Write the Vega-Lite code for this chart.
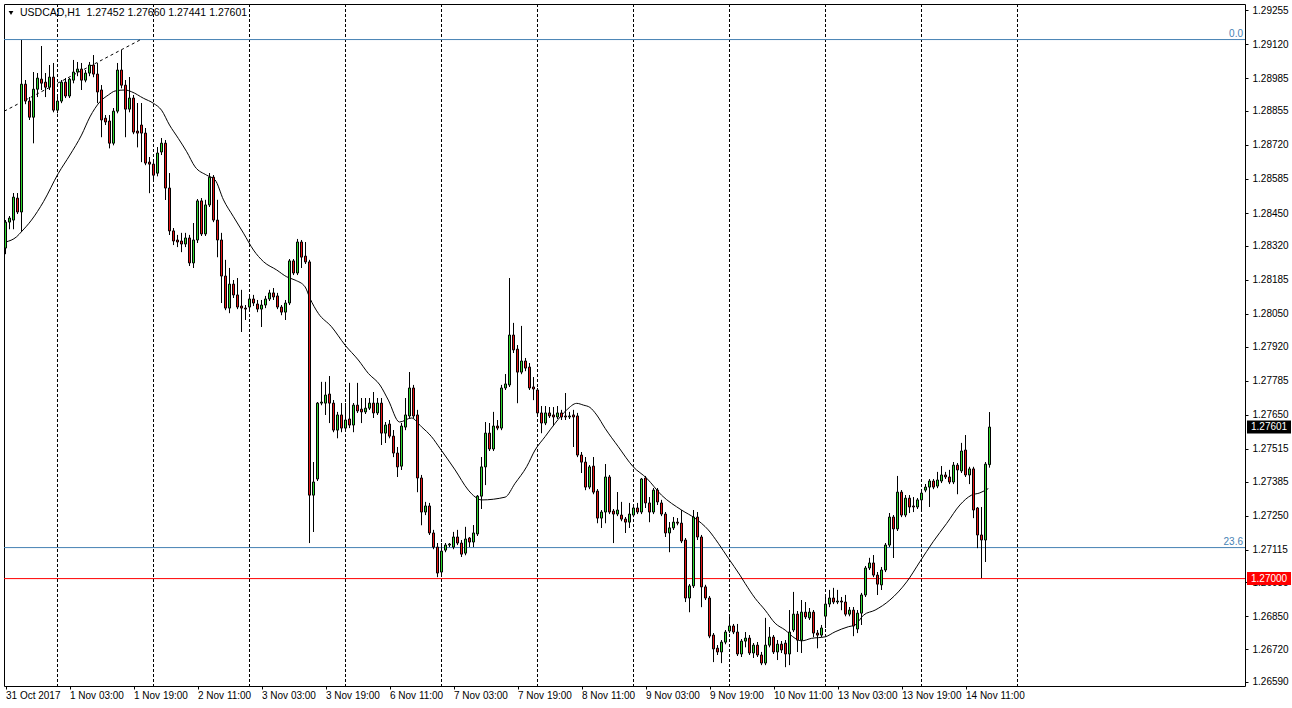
{
  "$schema": "https://vega.github.io/schema/vega-lite/v6.json",
  "width": 1241,
  "height": 682,
  "autosize": {"type": "none"},
  "padding": {"left": 4, "top": 4, "right": 47, "bottom": 22},
  "background": "#ffffff",
  "config": {
    "view": {"stroke": "#000000", "strokeWidth": 1},
    "axis": {"labelFont": "Liberation Sans", "labelFontSize": 10, "labelColor": "#000000", "tickColor": "#000000", "grid": false, "domain": false}
  },
  "resolve": {"axis": {"x": "independent", "y": "independent"}},
  "datasets": {
    "candles": [
      {"i":0,"o":1.28311,"h":1.28422,"l":1.28287,"c":1.28414},
      {"i":1,"o":1.28414,"h":1.28438,"l":1.28386,"c":1.28430},
      {"i":2,"o":1.28422,"h":1.28529,"l":1.28386,"c":1.28513},
      {"i":3,"o":1.28509,"h":1.28529,"l":1.28446,"c":1.28454},
      {"i":4,"o":1.28454,"h":1.29136,"l":1.28375,"c":1.28961},
      {"i":5,"o":1.28961,"h":1.28977,"l":1.28882,"c":1.28894},
      {"i":6,"o":1.28894,"h":1.28910,"l":1.28819,"c":1.28830},
      {"i":7,"o":1.28830,"h":1.29009,"l":1.28727,"c":1.28941},
      {"i":8,"o":1.28941,"h":1.29005,"l":1.28910,"c":1.28985},
      {"i":9,"o":1.28981,"h":1.29112,"l":1.28938,"c":1.28965},
      {"i":10,"o":1.28969,"h":1.29005,"l":1.28910,"c":1.28949},
      {"i":11,"o":1.28949,"h":1.29037,"l":1.28938,"c":1.28989},
      {"i":12,"o":1.28989,"h":1.29045,"l":1.28850,"c":1.28858},
      {"i":13,"o":1.28858,"h":1.28910,"l":1.28846,"c":1.28894},
      {"i":14,"o":1.28894,"h":1.28977,"l":1.28886,"c":1.28969},
      {"i":15,"o":1.28969,"h":1.28985,"l":1.28906,"c":1.28914},
      {"i":16,"o":1.28914,"h":1.28985,"l":1.28906,"c":1.28981},
      {"i":17,"o":1.28977,"h":1.29057,"l":1.28965,"c":1.29009},
      {"i":18,"o":1.29009,"h":1.29049,"l":1.28993,"c":1.29021},
      {"i":19,"o":1.29021,"h":1.29045,"l":1.28938,"c":1.28977},
      {"i":20,"o":1.28977,"h":1.29017,"l":1.28969,"c":1.29005},
      {"i":21,"o":1.29005,"h":1.29049,"l":1.28993,"c":1.29037},
      {"i":22,"o":1.29037,"h":1.29076,"l":1.28989,"c":1.29001},
      {"i":23,"o":1.29001,"h":1.29045,"l":1.28886,"c":1.28930},
      {"i":24,"o":1.28938,"h":1.28957,"l":1.28751,"c":1.28819},
      {"i":25,"o":1.28826,"h":1.28838,"l":1.28799,"c":1.28811},
      {"i":26,"o":1.28815,"h":1.28838,"l":1.28707,"c":1.28727},
      {"i":27,"o":1.28727,"h":1.28866,"l":1.28719,"c":1.28854},
      {"i":28,"o":1.28854,"h":1.29045,"l":1.28846,"c":1.29017},
      {"i":29,"o":1.29017,"h":1.29096,"l":1.28945,"c":1.28957},
      {"i":30,"o":1.28957,"h":1.28977,"l":1.28751,"c":1.28862},
      {"i":31,"o":1.28862,"h":1.28989,"l":1.28850,"c":1.28906},
      {"i":32,"o":1.28906,"h":1.28918,"l":1.28763,"c":1.28771},
      {"i":33,"o":1.28775,"h":1.28886,"l":1.28711,"c":1.28767},
      {"i":34,"o":1.28799,"h":1.28886,"l":1.28652,"c":1.28767},
      {"i":35,"o":1.28767,"h":1.28787,"l":1.28640,"c":1.28648},
      {"i":36,"o":1.28652,"h":1.28672,"l":1.28529,"c":1.28644},
      {"i":37,"o":1.28644,"h":1.28660,"l":1.28581,"c":1.28600},
      {"i":38,"o":1.28608,"h":1.28711,"l":1.28596,"c":1.28688},
      {"i":39,"o":1.28692,"h":1.28747,"l":1.28680,"c":1.28727},
      {"i":40,"o":1.28727,"h":1.28739,"l":1.28502,"c":1.28549},
      {"i":41,"o":1.28549,"h":1.28608,"l":1.28363,"c":1.28379},
      {"i":42,"o":1.28379,"h":1.28390,"l":1.28323,"c":1.28339},
      {"i":43,"o":1.28343,"h":1.28363,"l":1.28315,"c":1.28335},
      {"i":44,"o":1.28339,"h":1.28371,"l":1.28295,"c":1.28327},
      {"i":45,"o":1.28327,"h":1.28371,"l":1.28315,"c":1.28351},
      {"i":46,"o":1.28351,"h":1.28363,"l":1.28240,"c":1.28252},
      {"i":47,"o":1.28252,"h":1.28410,"l":1.28232,"c":1.28343},
      {"i":48,"o":1.28343,"h":1.28505,"l":1.28331,"c":1.28498},
      {"i":49,"o":1.28498,"h":1.28509,"l":1.28359,"c":1.28367},
      {"i":50,"o":1.28367,"h":1.28502,"l":1.28359,"c":1.28482},
      {"i":51,"o":1.28482,"h":1.28608,"l":1.28474,"c":1.28592},
      {"i":52,"o":1.28592,"h":1.28600,"l":1.28414,"c":1.28422},
      {"i":53,"o":1.28422,"h":1.28502,"l":1.28275,"c":1.28343},
      {"i":54,"o":1.28343,"h":1.28371,"l":1.28093,"c":1.28200},
      {"i":55,"o":1.28200,"h":1.28264,"l":1.28065,"c":1.28073},
      {"i":56,"o":1.28073,"h":1.28232,"l":1.28053,"c":1.28168},
      {"i":57,"o":1.28168,"h":1.28184,"l":1.28113,"c":1.28125},
      {"i":58,"o":1.28125,"h":1.28192,"l":1.28069,"c":1.28077},
      {"i":59,"o":1.28081,"h":1.28145,"l":1.27978,"c":1.28073},
      {"i":60,"o":1.28073,"h":1.28085,"l":1.28026,"c":1.28069},
      {"i":61,"o":1.28077,"h":1.28125,"l":1.28065,"c":1.28109},
      {"i":62,"o":1.28109,"h":1.28125,"l":1.28081,"c":1.28093},
      {"i":63,"o":1.28089,"h":1.28105,"l":1.28057,"c":1.28069},
      {"i":64,"o":1.28069,"h":1.28105,"l":1.27998,"c":1.28085},
      {"i":65,"o":1.28085,"h":1.28121,"l":1.28073,"c":1.28109},
      {"i":66,"o":1.28109,"h":1.28145,"l":1.28101,"c":1.28133},
      {"i":67,"o":1.28133,"h":1.28152,"l":1.28105,"c":1.28117},
      {"i":68,"o":1.28121,"h":1.28133,"l":1.28069,"c":1.28077},
      {"i":69,"o":1.28077,"h":1.28085,"l":1.28045,"c":1.28057},
      {"i":70,"o":1.28057,"h":1.28105,"l":1.28026,"c":1.28093},
      {"i":71,"o":1.28093,"h":1.28267,"l":1.28085,"c":1.28260},
      {"i":72,"o":1.28260,"h":1.28267,"l":1.28204,"c":1.28212},
      {"i":73,"o":1.28212,"h":1.28347,"l":1.28204,"c":1.28335},
      {"i":74,"o":1.28335,"h":1.28343,"l":1.28232,"c":1.28275},
      {"i":75,"o":1.28279,"h":1.28335,"l":1.28248,"c":1.28256},
      {"i":76,"o":1.28256,"h":1.28264,"l":1.27141,"c":1.27331},
      {"i":77,"o":1.27331,"h":1.27462,"l":1.27185,"c":1.27383},
      {"i":78,"o":1.27395,"h":1.27700,"l":1.27387,"c":1.27696},
      {"i":79,"o":1.27696,"h":1.27780,"l":1.27688,"c":1.27700},
      {"i":80,"o":1.27696,"h":1.27780,"l":1.27649,"c":1.27728},
      {"i":81,"o":1.27732,"h":1.27803,"l":1.27617,"c":1.27696},
      {"i":82,"o":1.27696,"h":1.27708,"l":1.27581,"c":1.27589},
      {"i":83,"o":1.27589,"h":1.27661,"l":1.27557,"c":1.27649},
      {"i":84,"o":1.27649,"h":1.27696,"l":1.27581,"c":1.27597},
      {"i":85,"o":1.27597,"h":1.27696,"l":1.27589,"c":1.27629},
      {"i":86,"o":1.27633,"h":1.27776,"l":1.27597,"c":1.27609},
      {"i":87,"o":1.27609,"h":1.27696,"l":1.27581,"c":1.27688},
      {"i":88,"o":1.27688,"h":1.27776,"l":1.27657,"c":1.27665},
      {"i":89,"o":1.27672,"h":1.27716,"l":1.27617,"c":1.27661},
      {"i":90,"o":1.27661,"h":1.27716,"l":1.27653,"c":1.27676},
      {"i":91,"o":1.27676,"h":1.27716,"l":1.27669,"c":1.27696},
      {"i":92,"o":1.27696,"h":1.27740,"l":1.27637,"c":1.27657},
      {"i":93,"o":1.27657,"h":1.27716,"l":1.27649,"c":1.27696},
      {"i":94,"o":1.27696,"h":1.27716,"l":1.27530,"c":1.27577},
      {"i":95,"o":1.27577,"h":1.27621,"l":1.27538,"c":1.27609},
      {"i":96,"o":1.27613,"h":1.27629,"l":1.27557,"c":1.27565},
      {"i":97,"o":1.27565,"h":1.27589,"l":1.27482,"c":1.27498},
      {"i":98,"o":1.27498,"h":1.27522,"l":1.27403,"c":1.27443},
      {"i":99,"o":1.27446,"h":1.27617,"l":1.27431,"c":1.27605},
      {"i":100,"o":1.27601,"h":1.27716,"l":1.27589,"c":1.27649},
      {"i":101,"o":1.27645,"h":1.27819,"l":1.27637,"c":1.27756},
      {"i":102,"o":1.27756,"h":1.27768,"l":1.27637,"c":1.27645},
      {"i":103,"o":1.27649,"h":1.27669,"l":1.27343,"c":1.27399},
      {"i":104,"o":1.27399,"h":1.27411,"l":1.27212,"c":1.27264},
      {"i":105,"o":1.27264,"h":1.27304,"l":1.27252,"c":1.27288},
      {"i":106,"o":1.27288,"h":1.27300,"l":1.27173,"c":1.27181},
      {"i":107,"o":1.27181,"h":1.27193,"l":1.27117,"c":1.27125},
      {"i":108,"o":1.27125,"h":1.27141,"l":1.27006,"c":1.27022},
      {"i":109,"o":1.27026,"h":1.27141,"l":1.27014,"c":1.27109},
      {"i":110,"o":1.27113,"h":1.27141,"l":1.27105,"c":1.27133},
      {"i":111,"o":1.27133,"h":1.27141,"l":1.27125,"c":1.27137},
      {"i":112,"o":1.27125,"h":1.27185,"l":1.27117,"c":1.27165},
      {"i":113,"o":1.27165,"h":1.27193,"l":1.27133,"c":1.27141},
      {"i":114,"o":1.27141,"h":1.27153,"l":1.27086,"c":1.27097},
      {"i":115,"o":1.27101,"h":1.27205,"l":1.27093,"c":1.27157},
      {"i":116,"o":1.27161,"h":1.27165,"l":1.27125,"c":1.27145},
      {"i":117,"o":1.27145,"h":1.27212,"l":1.27125,"c":1.27181},
      {"i":118,"o":1.27177,"h":1.27331,"l":1.27169,"c":1.27327},
      {"i":119,"o":1.27327,"h":1.27482,"l":1.27276,"c":1.27443},
      {"i":120,"o":1.27443,"h":1.27621,"l":1.27371,"c":1.27577},
      {"i":121,"o":1.27577,"h":1.27617,"l":1.27506,"c":1.27514},
      {"i":122,"o":1.27514,"h":1.27661,"l":1.27506,"c":1.27605},
      {"i":123,"o":1.27605,"h":1.27629,"l":1.27589,"c":1.27597},
      {"i":124,"o":1.27597,"h":1.27768,"l":1.27589,"c":1.27756},
      {"i":125,"o":1.27756,"h":1.27811,"l":1.27748,"c":1.27772},
      {"i":126,"o":1.27768,"h":1.28192,"l":1.27760,"c":1.27966},
      {"i":127,"o":1.27966,"h":1.28014,"l":1.27895,"c":1.27907},
      {"i":128,"o":1.27910,"h":1.27926,"l":1.27696,"c":1.27819},
      {"i":129,"o":1.27819,"h":1.28002,"l":1.27811,"c":1.27863},
      {"i":130,"o":1.27863,"h":1.27875,"l":1.27823,"c":1.27835},
      {"i":131,"o":1.27839,"h":1.27855,"l":1.27748,"c":1.27756},
      {"i":132,"o":1.27760,"h":1.27799,"l":1.27708,"c":1.27752},
      {"i":133,"o":1.27748,"h":1.27756,"l":1.27649,"c":1.27657},
      {"i":134,"o":1.27657,"h":1.27684,"l":1.27577,"c":1.27617},
      {"i":135,"o":1.27617,"h":1.27684,"l":1.27609,"c":1.27657},
      {"i":136,"o":1.27657,"h":1.27680,"l":1.27637,"c":1.27645},
      {"i":137,"o":1.27649,"h":1.27680,"l":1.27605,"c":1.27641},
      {"i":138,"o":1.27641,"h":1.27684,"l":1.27633,"c":1.27657},
      {"i":139,"o":1.27657,"h":1.27669,"l":1.27629,"c":1.27641},
      {"i":140,"o":1.27645,"h":1.27736,"l":1.27629,"c":1.27641},
      {"i":141,"o":1.27641,"h":1.27661,"l":1.27633,"c":1.27645},
      {"i":142,"o":1.27649,"h":1.27669,"l":1.27522,"c":1.27641},
      {"i":143,"o":1.27645,"h":1.27657,"l":1.27482,"c":1.27490},
      {"i":144,"o":1.27490,"h":1.27502,"l":1.27419,"c":1.27462},
      {"i":145,"o":1.27462,"h":1.27482,"l":1.27351,"c":1.27363},
      {"i":146,"o":1.27363,"h":1.27450,"l":1.27355,"c":1.27443},
      {"i":147,"o":1.27446,"h":1.27482,"l":1.27335,"c":1.27343},
      {"i":148,"o":1.27347,"h":1.27355,"l":1.27220,"c":1.27240},
      {"i":149,"o":1.27240,"h":1.27272,"l":1.27201,"c":1.27264},
      {"i":150,"o":1.27264,"h":1.27454,"l":1.27220,"c":1.27403},
      {"i":151,"o":1.27403,"h":1.27411,"l":1.27256,"c":1.27264},
      {"i":152,"o":1.27268,"h":1.27276,"l":1.27141,"c":1.27256},
      {"i":153,"o":1.27256,"h":1.27343,"l":1.27248,"c":1.27272},
      {"i":154,"o":1.27252,"h":1.27304,"l":1.27228,"c":1.27236},
      {"i":155,"o":1.27236,"h":1.27244,"l":1.27181,"c":1.27224},
      {"i":156,"o":1.27224,"h":1.27300,"l":1.27201,"c":1.27256},
      {"i":157,"o":1.27252,"h":1.27292,"l":1.27244,"c":1.27280},
      {"i":158,"o":1.27280,"h":1.27300,"l":1.27256,"c":1.27264},
      {"i":159,"o":1.27264,"h":1.27399,"l":1.27256,"c":1.27395},
      {"i":160,"o":1.27399,"h":1.27407,"l":1.27280,"c":1.27300},
      {"i":161,"o":1.27300,"h":1.27323,"l":1.27224,"c":1.27264},
      {"i":162,"o":1.27264,"h":1.27359,"l":1.27256,"c":1.27351},
      {"i":163,"o":1.27351,"h":1.27359,"l":1.27292,"c":1.27304},
      {"i":164,"o":1.27300,"h":1.27312,"l":1.27248,"c":1.27256},
      {"i":165,"o":1.27256,"h":1.27264,"l":1.27165,"c":1.27181},
      {"i":166,"o":1.27181,"h":1.27224,"l":1.27105,"c":1.27201},
      {"i":167,"o":1.27201,"h":1.27244,"l":1.27193,"c":1.27224},
      {"i":168,"o":1.27224,"h":1.27240,"l":1.27212,"c":1.27220},
      {"i":169,"o":1.27220,"h":1.27272,"l":1.27141,"c":1.27149},
      {"i":170,"o":1.27153,"h":1.27161,"l":1.26907,"c":1.26923},
      {"i":171,"o":1.26923,"h":1.26978,"l":1.26867,"c":1.26971},
      {"i":172,"o":1.26971,"h":1.27272,"l":1.26963,"c":1.27244},
      {"i":173,"o":1.27244,"h":1.27264,"l":1.27153,"c":1.27165},
      {"i":174,"o":1.27165,"h":1.27173,"l":1.26887,"c":1.26967},
      {"i":175,"o":1.26967,"h":1.26975,"l":1.26915,"c":1.26923},
      {"i":176,"o":1.26923,"h":1.26931,"l":1.26764,"c":1.26772},
      {"i":177,"o":1.26776,"h":1.26784,"l":1.26669,"c":1.26721},
      {"i":178,"o":1.26724,"h":1.26736,"l":1.26697,"c":1.26709},
      {"i":179,"o":1.26709,"h":1.26756,"l":1.26665,"c":1.26748},
      {"i":180,"o":1.26748,"h":1.26796,"l":1.26740,"c":1.26788},
      {"i":181,"o":1.26792,"h":1.26848,"l":1.26784,"c":1.26812},
      {"i":182,"o":1.26812,"h":1.26820,"l":1.26780,"c":1.26788},
      {"i":183,"o":1.26788,"h":1.26820,"l":1.26693,"c":1.26701},
      {"i":184,"o":1.26701,"h":1.26760,"l":1.26689,"c":1.26752},
      {"i":185,"o":1.26752,"h":1.26788,"l":1.26728,"c":1.26764},
      {"i":186,"o":1.26764,"h":1.26776,"l":1.26697,"c":1.26705},
      {"i":187,"o":1.26705,"h":1.26744,"l":1.26685,"c":1.26736},
      {"i":188,"o":1.26736,"h":1.26748,"l":1.26689,"c":1.26697},
      {"i":189,"o":1.26697,"h":1.26709,"l":1.26657,"c":1.26665},
      {"i":190,"o":1.26665,"h":1.26844,"l":1.26657,"c":1.26736},
      {"i":191,"o":1.26736,"h":1.26808,"l":1.26728,"c":1.26768},
      {"i":192,"o":1.26768,"h":1.26776,"l":1.26701,"c":1.26709},
      {"i":193,"o":1.26709,"h":1.26756,"l":1.26677,"c":1.26740},
      {"i":194,"o":1.26740,"h":1.26752,"l":1.26705,"c":1.26717},
      {"i":195,"o":1.26744,"h":1.26756,"l":1.26649,"c":1.26701},
      {"i":196,"o":1.26701,"h":1.26875,"l":1.26657,"c":1.26788},
      {"i":197,"o":1.26796,"h":1.26947,"l":1.26788,"c":1.26859},
      {"i":198,"o":1.26859,"h":1.26871,"l":1.26709,"c":1.26756},
      {"i":199,"o":1.26756,"h":1.26915,"l":1.26705,"c":1.26867},
      {"i":200,"o":1.26867,"h":1.26907,"l":1.26840,"c":1.26848},
      {"i":201,"o":1.26844,"h":1.26883,"l":1.26836,"c":1.26867},
      {"i":202,"o":1.26867,"h":1.26875,"l":1.26768,"c":1.26784},
      {"i":203,"o":1.26784,"h":1.26796,"l":1.26724,"c":1.26776},
      {"i":204,"o":1.26776,"h":1.26816,"l":1.26768,"c":1.26804},
      {"i":205,"o":1.26851,"h":1.26935,"l":1.26804,"c":1.26899},
      {"i":206,"o":1.26899,"h":1.26955,"l":1.26887,"c":1.26923},
      {"i":207,"o":1.26923,"h":1.26963,"l":1.26899,"c":1.26907},
      {"i":208,"o":1.26907,"h":1.26955,"l":1.26899,"c":1.26911},
      {"i":209,"o":1.26911,"h":1.26927,"l":1.26875,"c":1.26907},
      {"i":210,"o":1.26907,"h":1.26935,"l":1.26851,"c":1.26859},
      {"i":211,"o":1.26859,"h":1.26887,"l":1.26851,"c":1.26875},
      {"i":212,"o":1.26875,"h":1.26887,"l":1.26772,"c":1.26812},
      {"i":213,"o":1.26800,"h":1.26875,"l":1.26784,"c":1.26863},
      {"i":214,"o":1.26863,"h":1.26943,"l":1.26816,"c":1.26935},
      {"i":215,"o":1.26935,"h":1.27050,"l":1.26927,"c":1.27042},
      {"i":216,"o":1.27042,"h":1.27082,"l":1.27034,"c":1.27062},
      {"i":217,"o":1.27062,"h":1.27093,"l":1.27006,"c":1.27014},
      {"i":218,"o":1.27014,"h":1.27026,"l":1.26935,"c":1.26978},
      {"i":219,"o":1.26975,"h":1.27046,"l":1.26955,"c":1.27034},
      {"i":220,"o":1.27034,"h":1.27141,"l":1.27026,"c":1.27133},
      {"i":221,"o":1.27133,"h":1.27260,"l":1.27125,"c":1.27244},
      {"i":222,"o":1.27244,"h":1.27252,"l":1.27082,"c":1.27197},
      {"i":223,"o":1.27197,"h":1.27407,"l":1.27189,"c":1.27343},
      {"i":224,"o":1.27343,"h":1.27351,"l":1.27244,"c":1.27252},
      {"i":225,"o":1.27252,"h":1.27331,"l":1.27244,"c":1.27319},
      {"i":226,"o":1.27319,"h":1.27331,"l":1.27260,"c":1.27284},
      {"i":227,"o":1.27288,"h":1.27323,"l":1.27264,"c":1.27284},
      {"i":228,"o":1.27284,"h":1.27319,"l":1.27276,"c":1.27312},
      {"i":229,"o":1.27312,"h":1.27351,"l":1.27272,"c":1.27339},
      {"i":230,"o":1.27351,"h":1.27375,"l":1.27343,"c":1.27363},
      {"i":231,"o":1.27363,"h":1.27395,"l":1.27284,"c":1.27387},
      {"i":232,"o":1.27387,"h":1.27395,"l":1.27355,"c":1.27363},
      {"i":233,"o":1.27367,"h":1.27423,"l":1.27359,"c":1.27391},
      {"i":234,"o":1.27387,"h":1.27446,"l":1.27379,"c":1.27411},
      {"i":235,"o":1.27411,"h":1.27423,"l":1.27395,"c":1.27403},
      {"i":236,"o":1.27403,"h":1.27431,"l":1.27375,"c":1.27383},
      {"i":237,"o":1.27383,"h":1.27462,"l":1.27375,"c":1.27450},
      {"i":238,"o":1.27450,"h":1.27458,"l":1.27335,"c":1.27431},
      {"i":239,"o":1.27427,"h":1.27538,"l":1.27419,"c":1.27506},
      {"i":240,"o":1.27510,"h":1.27569,"l":1.27403,"c":1.27411},
      {"i":241,"o":1.27411,"h":1.27443,"l":1.27375,"c":1.27435},
      {"i":242,"o":1.27435,"h":1.27443,"l":1.27240,"c":1.27272},
      {"i":243,"o":1.27280,"h":1.27284,"l":1.27121,"c":1.27173},
      {"i":244,"o":1.27173,"h":1.27284,"l":1.27002,"c":1.27153},
      {"i":245,"o":1.27153,"h":1.27462,"l":1.27066,"c":1.27454},
      {"i":246,"o":1.27452,"h":1.27660,"l":1.27441,"c":1.27601}
    ],
    "ma": [
      {"i":0,"p":1.28335},{"i":2.8,"p":1.28356},{"i":4,"p":1.28376},{"i":6.5,"p":1.28422},
      {"i":9.5,"p":1.28495},{"i":13.2,"p":1.28607},{"i":16.1,"p":1.28680},{"i":19,"p":1.28759},
      {"i":21.1,"p":1.28831},{"i":23.6,"p":1.28891},{"i":25.7,"p":1.28918},{"i":27.4,"p":1.28934},
      {"i":29.9,"p":1.28938},{"i":31.5,"p":1.28931},{"i":34.5,"p":1.28905},{"i":37,"p":1.28885},
      {"i":39,"p":1.28858},{"i":41,"p":1.28799},{"i":43.2,"p":1.28746},{"i":45.3,"p":1.28693},
      {"i":47.4,"p":1.28633},{"i":50.3,"p":1.28600},{"i":52.4,"p":1.28581},{"i":54.5,"p":1.28502},
      {"i":57,"p":1.28435},{"i":59.5,"p":1.28370},{"i":62,"p":1.28303},{"i":64.5,"p":1.28257},
      {"i":67.8,"p":1.28224},{"i":70.3,"p":1.28197},{"i":72.4,"p":1.28184},{"i":74.9,"p":1.28157},
      {"i":76.1,"p":1.28112},{"i":78.2,"p":1.28052},{"i":81.5,"p":1.27999},{"i":84.9,"p":1.27926},
      {"i":88.2,"p":1.27867},{"i":90.7,"p":1.27814},{"i":93.6,"p":1.27768},{"i":95.7,"p":1.27708},
      {"i":98.5,"p":1.27621},{"i":101.5,"p":1.27637},{"i":104,"p":1.27602},{"i":106.5,"p":1.27563},
      {"i":108.6,"p":1.27517},{"i":112.4,"p":1.27431},{"i":115.7,"p":1.27351},{"i":117.4,"p":1.27324},
      {"i":119,"p":1.27312},{"i":124.9,"p":1.27323},{"i":127.4,"p":1.27378},{"i":130.3,"p":1.27444},
      {"i":132.4,"p":1.27510},{"i":134.9,"p":1.27563},{"i":137.4,"p":1.27616},{"i":140.3,"p":1.27669},
      {"i":142.8,"p":1.27695},{"i":144.5,"p":1.27688},{"i":146.1,"p":1.27679},{"i":147.8,"p":1.27649},
      {"i":149.9,"p":1.27596},{"i":153.2,"p":1.27523},{"i":156.9,"p":1.27444},{"i":160.3,"p":1.27398},
      {"i":164,"p":1.27331},{"i":169,"p":1.27272},{"i":172.4,"p":1.27239},{"i":175.7,"p":1.27193},
      {"i":178.2,"p":1.27140},{"i":180.7,"p":1.27081},{"i":183.6,"p":1.27014},{"i":184.9,"p":1.26981},
      {"i":187.4,"p":1.26922},{"i":189.9,"p":1.26875},{"i":192.4,"p":1.26823},{"i":194.9,"p":1.26796},
      {"i":197.4,"p":1.26763},{"i":199,"p":1.26753},{"i":201.5,"p":1.26763},{"i":204.9,"p":1.26769},
      {"i":207.4,"p":1.26789},{"i":210.7,"p":1.26809},{"i":212.4,"p":1.26816},{"i":214.5,"p":1.26855},
      {"i":217.4,"p":1.26875},{"i":221.1,"p":1.26915},{"i":225.3,"p":1.26987},{"i":228.6,"p":1.27067},
      {"i":231.9,"p":1.27146},{"i":235.3,"p":1.27219},{"i":238.6,"p":1.27292},{"i":241.5,"p":1.27331},
      {"i":243.6,"p":1.27340},{"i":245.7,"p":1.27357}
    ],
    "separators": [
      {"i":13},{"i":37},{"i":61},{"i":85},{"i":109},{"i":133},{"i":157},{"i":181},{"i":205},{"i":229},{"i":253}
    ],
    "fib": [
      {"level":"0.0","p":1.29138},
      {"level":"23.6","p":1.27123}
    ],
    "trend": [
      {"i":-0.3,"p":1.28854},
      {"i":33.6,"p":1.29136}
    ]
  },
  "layer": [
    {
      "data": {"name": "candles"},
      "mark": {"type": "rule", "color": "#000000", "strokeWidth": 1},
      "encoding": {
        "x": {
          "field": "i", "type": "quantitative",
          "scale": {"domain": [-0.375, 309.875], "nice": false, "zero": false, "padding": 0},
          "axis": {
            "title": null,
            "orient": "bottom",
            "values": [0, 16, 32, 48, 64, 80, 96, 112, 128, 144, 160, 176, 192, 208, 224, 240],
            "labelExpr": "['31 Oct 2017','1 Nov 03:00','1 Nov 19:00','2 Nov 11:00','3 Nov 03:00','3 Nov 19:00','6 Nov 11:00','7 Nov 03:00','7 Nov 19:00','8 Nov 11:00','9 Nov 03:00','9 Nov 19:00','10 Nov 11:00','13 Nov 03:00','13 Nov 19:00','14 Nov 11:00'][round(datum.value/16)]",
            "labelAlign": "left",
            "labelFlush": false,
            "labelOverlap": false,
            "labelBound": false,
            "tickSize": 3,
            "labelPadding": 1
          }
        },
        "y": {
          "field": "l", "type": "quantitative",
          "scale": {"domain": [1.26574, 1.29279], "nice": false, "zero": false, "padding": 0},
          "axis": {
            "title": null,
            "orient": "right",
            "values": [1.29255, 1.2912, 1.28985, 1.28855, 1.2872, 1.28585, 1.2845, 1.2832, 1.28185, 1.2805, 1.2792, 1.27785, 1.2765, 1.27515, 1.27385, 1.2725, 1.27115, 1.26985, 1.2685, 1.2672, 1.2659],
            "format": ".5f",
            "labelAlign": "left",
            "labelBaseline": "middle",
            "labelFlush": false,
            "labelOverlap": false,
            "labelBound": false,
            "tickSize": 3,
            "labelPadding": 4
          }
        },
        "y2": {"field": "h"}
      }
    },
    {
      "data": {"name": "separators"},
      "mark": {"type": "rule", "color": "#000000", "strokeWidth": 1, "strokeDash": [3, 2]},
      "encoding": {
        "x": {"field": "i", "type": "quantitative", "axis": null}
      }
    },
    {
      "data": {"name": "fib"},
      "mark": {"type": "rule", "color": "#4682B4", "strokeWidth": 1},
      "encoding": {
        "y": {"field": "p", "type": "quantitative", "axis": null}
      }
    },
    {
      "data": {"values": [{"p": 1.27}]},
      "mark": {"type": "rule", "color": "#ff0000", "strokeWidth": 1},
      "encoding": {
        "y": {"field": "p", "type": "quantitative", "axis": null}
      }
    },
    {
      "data": {"name": "trend"},
      "mark": {"type": "line", "color": "#000000", "strokeWidth": 1, "strokeDash": [3, 3], "clip": true},
      "encoding": {
        "x": {"field": "i", "type": "quantitative", "axis": null},
        "y": {"field": "p", "type": "quantitative", "axis": null}
      }
    },
    {
      "data": {"name": "ma"},
      "mark": {"type": "line", "color": "#000000", "strokeWidth": 1, "interpolate": "monotone"},
      "encoding": {
        "x": {"field": "i", "type": "quantitative", "axis": null},
        "y": {"field": "p", "type": "quantitative", "axis": null}
      }
    },
    {
      "data": {"name": "candles"},
      "mark": {"type": "rule", "color": "#000000", "strokeWidth": 1},
      "encoding": {
        "x": {"field": "i", "type": "quantitative", "axis": null},
        "y": {"field": "l", "type": "quantitative", "axis": null},
        "y2": {"field": "h"}
      }
    },
    {
      "data": {"name": "candles"},
      "mark": {"type": "bar", "orient": "vertical", "width": 2, "stroke": "#000000", "strokeWidth": 1},
      "encoding": {
        "x": {"field": "i", "type": "quantitative", "axis": null},
        "y": {"field": "o", "type": "quantitative", "axis": null},
        "y2": {"field": "c"},
        "fill": {"condition": {"test": "datum.c >= datum.o", "value": "#2ed82e"}, "value": "#e81515"}
      }
    },
    {
      "data": {"name": "fib"},
      "mark": {"type": "text", "align": "right", "baseline": "alphabetic", "dx": -2, "dy": -3, "font": "Liberation Sans", "fontSize": 10, "color": "#4682B4"},
      "encoding": {
        "x": {"value": "width"},
        "y": {"field": "p", "type": "quantitative", "axis": null},
        "text": {"field": "level"}
      }
    },
    {
      "data": {"values": [{"p": 1.27601}]},
      "mark": {"type": "rule", "color": "#000000", "strokeWidth": 13, "strokeCap": "butt", "clip": false},
      "encoding": {
        "x": {"value": 1243},
        "x2": {"value": 1287},
        "y": {"field": "p", "type": "quantitative", "axis": null}
      }
    },
    {
      "data": {"values": [{"p": 1.27}]},
      "mark": {"type": "rule", "color": "#ff0000", "strokeWidth": 13, "strokeCap": "butt", "clip": false},
      "encoding": {
        "x": {"value": 1243},
        "x2": {"value": 1287},
        "y": {"field": "p", "type": "quantitative", "axis": null}
      }
    },
    {
      "data": {"values": [{"p": 1.27601, "t": "1.27601"}, {"p": 1.27, "t": "1.27000"}]},
      "mark": {"type": "text", "align": "left", "baseline": "middle", "font": "Liberation Sans", "fontSize": 10, "color": "#ffffff", "clip": false},
      "encoding": {
        "x": {"value": 1247},
        "y": {"field": "p", "type": "quantitative", "axis": null},
        "text": {"field": "t"}
      }
    },
    {
      "data": {"values": [{"marker": "menu"}]},
      "mark": {"type": "point", "shape": "triangle-down", "filled": true, "color": "#000000", "size": 22, "opacity": 1},
      "encoding": {
        "x": {"value": 7},
        "y": {"value": 9}
      }
    },
    {
      "data": {"values": [{"t": "USDCAD,H1\u00a0\u00a01.27452 1.27660 1.27441 1.27601"}]},
      "mark": {"type": "text", "align": "left", "baseline": "middle", "font": "Liberation Sans", "fontSize": 10.5, "color": "#000000"},
      "encoding": {
        "x": {"value": 16},
        "y": {"value": 9},
        "text": {"field": "t"}
      }
    }
  ]
}
